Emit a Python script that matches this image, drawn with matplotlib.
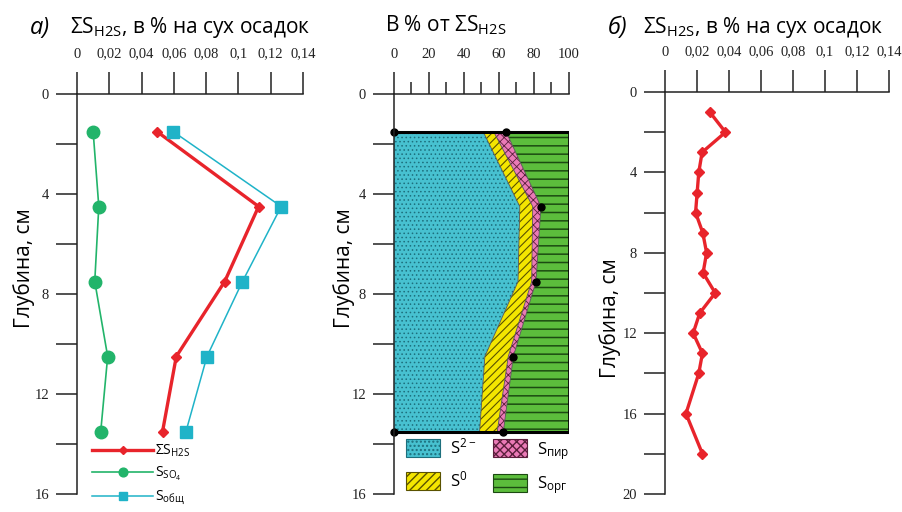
import matplotlib
matplotlib.use("Agg")
import matplotlib.pyplot as plt
from matplotlib.patches import Patch
import numpy as np

plt.rcParams['mathtext.default'] = 'regular'
plt.rcParams['font.family'] = ['Open Sans', 'Liberation Sans', 'DejaVu Sans']

# --- panel а: sulfur forms vs depth, % of dry sediment
depth_a = [1.5, 4.5, 7.5, 10.5, 13.5]
s_h2s_a = [0.0495, 0.1125, 0.0915, 0.0615, 0.053]
s_so4_a = [0.010, 0.0135, 0.011, 0.019, 0.0147]
s_tot_a = [0.0595, 0.1265, 0.1025, 0.0805, 0.0675]

# --- middle panel: composition of ΣS_H2S, %
depth_m = [1.5, 4.5, 7.5, 10.5, 13.5]
pct_s2 = [51, 72, 71, 52, 49]
pct_s0 = [6, 7.4, 7.8, 13.4, 10.1]
pct_pir = [7.1, 4.7, 2.5, 2.9, 3.5]

# --- panel б: ΣS_H2S vs depth
depth_b = [1, 2, 3, 4, 5, 6, 7, 8, 9, 10, 11, 12, 13, 14, 16, 18]
s_h2s_b = [0.028, 0.0378, 0.0232, 0.0211, 0.0201, 0.0191, 0.0236, 0.026,
           0.0238, 0.0314, 0.0217, 0.0176, 0.0234, 0.0211, 0.0131, 0.0234]

x_ticks_frac = [0, 0.02, 0.04, 0.06, 0.08, 0.10, 0.12, 0.14]
x_labels_frac = ['0', '0,02', '0,04', '0,06', '0,08', '0,1', '0,12', '0,14']

RED = '#e8242b'
GREEN = '#22b46a'
CYAN = '#1fb3c8'
TICK_FONT = 'Liberation Serif'
SIGMA_H2S = r'ΣS$_{H2S}$'

fig = plt.figure(figsize=(9.02, 5.12), dpi=100)
W, H = 902, 512


def px_axes(left, right, top=94, bottom=494):
    return fig.add_axes([left / W, 1 - bottom / H, (right - left) / W, (bottom - top) / H])


def style_axis(ax, ymax, ylabels):
    for s in ('right', 'bottom'):
        ax.spines[s].set_visible(False)
    for s in ('left', 'top'):
        ax.spines[s].set_linewidth(1.1)
        ax.spines[s].set_color('#222222')
    ax.set_ylim(ymax, 0)
    ax.xaxis.tick_top()
    ax.set_yticks(np.arange(0, ymax + 1, 2))
    ax.set_yticklabels([str(v) if v in ylabels else '' for v in range(0, ymax + 1, 2)])
    ax.tick_params(axis='y', direction='out', length=15, width=1.1, color='#222222',
                   labelsize=10.5, pad=5, labelcolor='#222222')
    ax.tick_params(axis='x', direction='out', length=16, width=1.1, color='#222222',
                   labelsize=10.5, pad=8, labelcolor='#222222')
    for lab in ax.get_xticklabels() + ax.get_yticklabels():
        lab.set_fontfamily(TICK_FONT)
    ax.patch.set_visible(False)


# ---------------- panel а
ax_a = px_axes(77, 303)
ax_a.set_xlim(0, 0.14)
ax_a.set_xticks(x_ticks_frac)
ax_a.set_xticklabels(x_labels_frac)
style_axis(ax_a, 16, {0, 4, 8, 12, 16})

l1, = ax_a.plot(s_h2s_a, depth_a, color=RED, lw=2.4, marker='D', ms=5.5, clip_on=False)
l2, = ax_a.plot(s_so4_a, depth_a, color=GREEN, lw=1.2, marker='o', ms=9, clip_on=False)
l3, = ax_a.plot(s_tot_a, depth_a, color=CYAN, lw=1.1, marker='s', ms=9, clip_on=False)
ax_a.legend([l1, l2, l3],
            [SIGMA_H2S, r'S$_{SO_4}$', r'S$_{общ}$'],
            loc='upper left', bbox_to_anchor=(92 / W, 1 - 443 / H),
            bbox_transform=fig.transFigure, frameon=False, fontsize=10,
            handlelength=4.4, handletextpad=0.15, labelspacing=0.4,
            borderpad=0, borderaxespad=0, markerscale=0.7)

# ---------------- middle panel
ax_m = px_axes(394, 568.7)
ax_m.set_xlim(0, 100)
ax_m.set_xticks(range(0, 101, 20))
ax_m.set_xticks(range(10, 100, 20), minor=True)
style_axis(ax_m, 16, {0, 4, 8, 12, 16})
ax_m.tick_params(axis='x', which='minor', direction='out', length=9, width=1.1, color='#222222')

b0 = np.zeros(len(depth_m))
b1 = np.array(pct_s2, dtype=float)
b2 = b1 + np.array(pct_s0)
b3 = b2 + np.array(pct_pir)
b4 = np.full(len(depth_m), 100.0)

layers = [
    (b0, b1, '#47c1d0', '#1d6f7d', '....', 0.6),
    (b1, b2, '#f4e600', '#5a5200', '////', 0.8),
    (b2, b3, '#ea7ab6', '#5b1f3c', 'xxxx', 0.6),
    (b3, b4, '#5cbd3c', '#1c4a12', '--', 1.1),
]
for lo, hi, fc, hc, hatch, hlw in layers:
    with plt.rc_context({'hatch.linewidth': hlw}):
        ax_m.fill_betweenx(depth_m, lo, hi, facecolor=fc, edgecolor=hc, hatch=hatch, lw=0)
    ax_m.plot(hi, depth_m, color='#555555', lw=0.6)

# outer frame of the composition block
ax_m.plot([0, 100], [depth_m[0], depth_m[0]], color='black', lw=2.2, solid_capstyle='butt')
ax_m.plot([0, 100], [depth_m[-1], depth_m[-1]], color='black', lw=2.2, solid_capstyle='butt')
ax_m.plot([100, 100], [depth_m[0], depth_m[-1]], color='black', lw=2.0)
ax_m.plot(b3, depth_m, 'o', color='black', ms=5, clip_on=False)
ax_m.plot([0, 0], [depth_m[0], depth_m[-1]], 'o', color='black', ms=5, clip_on=False)

with plt.rc_context({'hatch.linewidth': 0.7}):
    handles = [
        Patch(facecolor='#47c1d0', edgecolor='#1d6f7d', hatch='....', lw=0.8),
        Patch(facecolor='#f4e600', edgecolor='#5a5200', hatch='////', lw=0.8),
        Patch(facecolor='#ea7ab6', edgecolor='#5b1f3c', hatch='xxxx', lw=0.8),
        Patch(facecolor='#5cbd3c', edgecolor='#1c4a12', hatch='--', lw=0.8),
    ]
labels = [r'S$^{2-}$', r'S$^{0}$', r'S$_{пир}$', r'S$_{орг}$']
ax_m.legend(handles, labels, ncol=2, loc='upper left',
            bbox_to_anchor=(406 / W, 1 - 438 / H), bbox_transform=fig.transFigure,
            frameon=False, fontsize=12, handlelength=2.05, handleheight=1.3,
            handletextpad=0.6, labelspacing=0.75, columnspacing=1.0,
            borderpad=0, borderaxespad=0)

# ---------------- panel б
ax_b = px_axes(665, 889, top=92, bottom=494)
ax_b.set_xlim(0, 0.14)
ax_b.set_xticks(x_ticks_frac)
ax_b.set_xticklabels(x_labels_frac)
style_axis(ax_b, 20, {0, 4, 8, 12, 16, 20})
ax_b.plot(s_h2s_b, depth_b, color=RED, lw=2.4, marker='D', ms=5.5, clip_on=False)

# ---------------- titles and axis captions
title_kw = dict(fontsize=15, va='center', ha='left', color='black')
fig.text(30 / W, 1 - 28 / H, 'а)', fontsize=17, style='italic', va='center', ha='left')
fig.text(70 / W, 1 - 28 / H, SIGMA_H2S + ', в % на сух осадок', **title_kw)
fig.text(385 / W, 1 - 25 / H, 'В % от ' + SIGMA_H2S, **title_kw)
fig.text(608 / W, 1 - 28 / H, 'б)', fontsize=17, style='italic', va='center', ha='left')
fig.text(643 / W, 1 - 28 / H, SIGMA_H2S + ', в % на сух осадок', **title_kw)

ylab_kw = dict(fontsize=15, rotation=90, va='center', ha='center')
fig.text(24 / W, 1 - 268 / H, 'Глубина, см', **ylab_kw)
fig.text(344 / W, 1 - 268 / H, 'Глубина, см', **ylab_kw)
fig.text(610 / W, 1 - 318 / H, 'Глубина, см', **ylab_kw)

fig.savefig('out.png', dpi=100)
